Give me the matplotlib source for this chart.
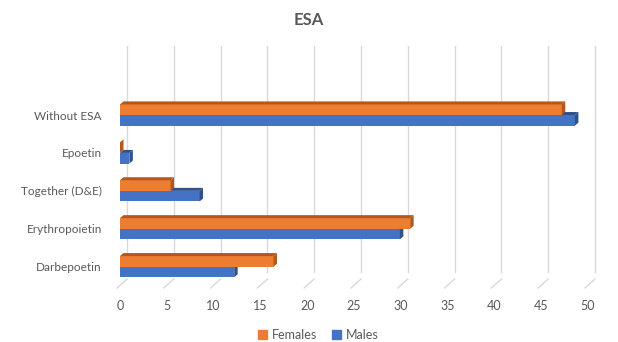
import matplotlib
matplotlib.use("Agg")
import matplotlib.pyplot as plt
from matplotlib.patches import Polygon, Rectangle
from matplotlib.transforms import offset_copy

# data (bottom to top, as drawn)
categories = ["Darbepoetin", "Erythropoietin", "Together (D&E)", "Epoetin", "Without ESA"]
females = [16.4, 31.0, 5.4, 0.0, 47.2]
males = [12.2, 29.9, 8.5, 1.0, 48.6]
xticks = [0, 5, 10, 15, 20, 25, 30, 35, 40, 45, 50]

orange, orange_dark = "#ED7D31", "#B5561A"
blue, blue_dark = "#4472C4", "#2F528F"
grey = "#595959"

plt.rcParams["font.family"] = ["Lato", "DejaVu Sans"]

W, H = 618, 342
fig = plt.figure(figsize=(W / 100, H / 100), dpi=100)

# plot area in pixels
left_px, right_px = 120, 588
top_px, bottom_px = 53, 288
ax = fig.add_axes([left_px / W, 1 - bottom_px / H, (right_px - left_px) / W, (bottom_px - top_px) / H])

px_per_cat = 37.9
ax.set_xlim(0, 50)
ax.set_ylim(-(bottom_px - 266.7) / px_per_cat, 4 + (115 - top_px) / px_per_cat)
for s in ax.spines.values():
    s.set_visible(False)

# back wall gridlines + floor ticks
back = offset_copy(ax.transData, fig=fig, x=7, y=9 * 0.75, units="dots")
front = offset_copy(ax.transData, fig=fig, x=-3, y=0, units="dots")
ylo, yhi = ax.get_ylim()
for v in xticks:
    ax.plot([v, v], [ylo + 9 / px_per_cat, yhi], color="#D9D9D9", lw=1, transform=back, clip_on=False, zorder=0)
    ax.plot([v, v + 10 * 50 / 468], [ylo, ylo + 9 / px_per_cat], color="#D9D9D9", lw=1, transform=front,
            clip_on=False, zorder=0)

# 3d-ish bars
h = 0.28
dx = 3.5 * 50 / 468
dy = 3.0 / px_per_cat


def bar3d(v, y0, col, dark):
    ax.add_patch(Rectangle((0, y0), v, h, facecolor=col, edgecolor="none", zorder=3))
    ax.add_patch(Polygon([(0, y0 + h), (v, y0 + h), (v + dx, y0 + h + dy), (dx, y0 + h + dy)],
                         closed=True, facecolor=dark, edgecolor="none", zorder=3))
    ax.add_patch(Polygon([(v, y0), (v + dx, y0 + dy), (v + dx, y0 + h + dy), (v, y0 + h)],
                         closed=True, facecolor=dark, edgecolor="none", zorder=3))


for i in range(len(categories)):
    bar3d(males[i], i - h, blue, blue_dark)
    bar3d(females[i], i, orange, orange_dark)

ax.set_yticks(range(len(categories)))
ax.set_yticklabels(categories)
ax.set_xticks(xticks)
ax.tick_params(axis="y", length=0, pad=13, labelsize=8.5, labelcolor=grey)
ax.tick_params(axis="x", length=0, pad=9, labelsize=9, labelcolor=grey)

fig.text(0.5, 1 - 20 / H, "ESA", ha="center", va="center", fontsize=12, fontweight="bold", color=grey)

handles = [Rectangle((0, 0), 1, 1, color=orange), Rectangle((0, 0), 1, 1, color=blue)]
fig.legend(handles, ["Females", "Males"], loc="center", bbox_to_anchor=(318 / W, 1 - 335 / H), ncol=2,
           frameon=False, fontsize=9, handlelength=0.7, handleheight=0.7, handletextpad=0.4,
           columnspacing=1.2, labelcolor=grey)

fig.savefig("out.png", dpi=100)
